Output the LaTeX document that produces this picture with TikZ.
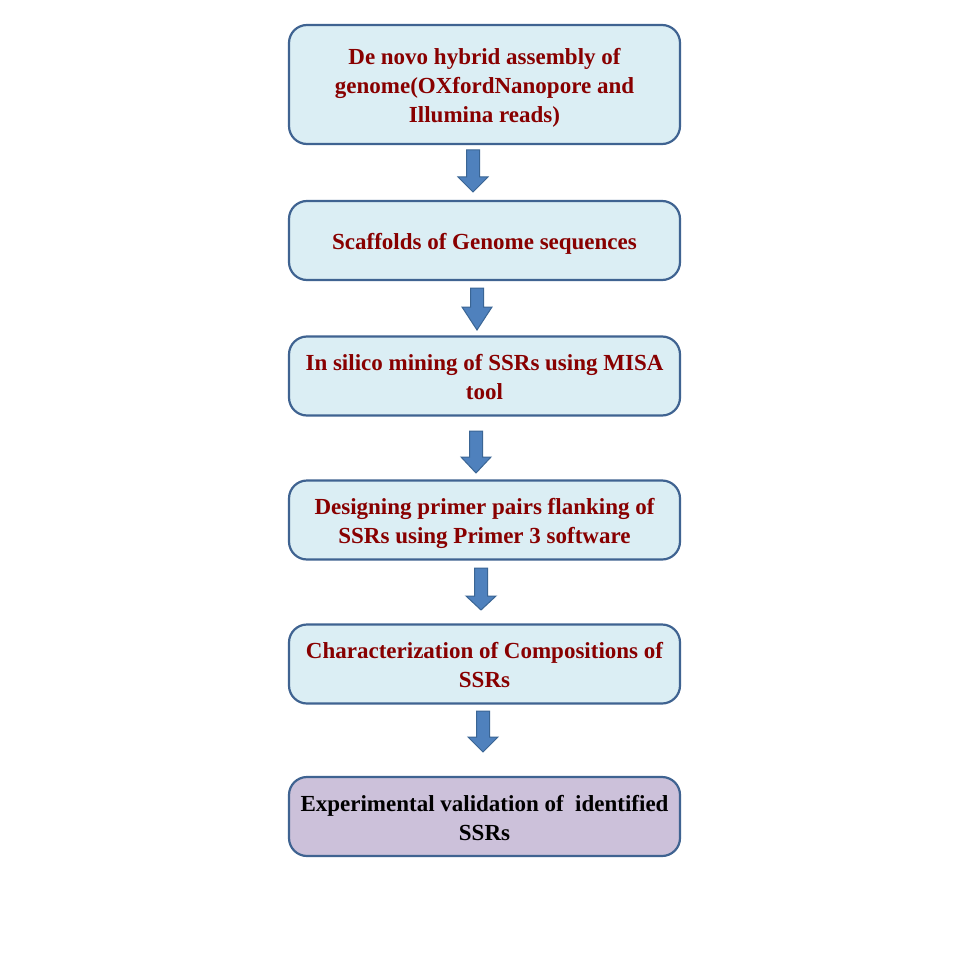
\documentclass[tikz,border=0pt]{standalone}
\usepackage{fontspec}
\setmainfont{Liberation Serif}
\usetikzlibrary{calc}
\definecolor{boxfill}{HTML}{DBEEF4}
\definecolor{boxdraw}{HTML}{3F6391}
\definecolor{lastfill}{HTML}{CCC1DA}
\definecolor{txtred}{HTML}{880000}
\definecolor{arrfill}{HTML}{4F81BD}
\definecolor{arrdraw}{HTML}{3A6594}
\newcommand\blkarrow[3]{\draw[blockarrow] ($(#1)+(-6.5,0)$) -- ($(#2)+(-6.5,0)$) -- ($(#2)+(-15,0)$) -- (#3) -- ($(#2)+(15,0)$) -- ($(#2)+(6.5,0)$) -- ($(#1)+(6.5,0)$) -- cycle;}
\begin{document}
\begin{tikzpicture}[x=1pt,y=-1pt,
  stepbox/.style={draw=boxdraw, line width=2.2pt, fill=boxfill, rounded corners=18pt,
    minimum width=391pt, minimum height=79pt, align=center,
    font=\fontsize{23}{29}\selectfont\bfseries, text=txtred, inner sep=0pt,
    text depth=0pt},
  lines1/.style={text height=18.6pt},
  lines2/.style={text height=47.6pt},
  lines3/.style={text height=76.6pt},
  laststep/.style={stepbox, fill=lastfill, text=black},
  blockarrow/.style={fill=arrfill, draw=arrdraw, line width=1pt, line join=miter}
]
\useasboundingbox (0,0) rectangle (960,960);
\fill[white] (0,0) rectangle (960,960);

\node[stepbox, lines3, minimum height=119pt] (b1) at (484.5,84.5)
  {De novo hybrid assembly of\\genome(OXfordNanopore and\\Illumina reads)};
\node[stepbox, lines1] (b2) at (484.5,240.5) {Scaffolds of Genome sequences};
\node[stepbox, lines2] (b3) at (484.5,376) {In silico mining of SSRs using MISA\\tool};
\node[stepbox, lines2] (b4) at (484.5,520) {Designing primer pairs flanking of\\SSRs using Primer 3 software};
\node[stepbox, lines2] (b5) at (484.5,664) {Characterization of Compositions of\\SSRs};
\node[laststep, lines2] (b6) at (484.5,816.5) {Experimental validation of~ identified\\SSRs};

\coordinate (a1t) at (473,150); \coordinate (a1h) at (473,177); \coordinate (a1e) at (473,192);
\coordinate (a2t) at (477,288); \coordinate (a2h) at (477,307); \coordinate (a2e) at (477,330);
\coordinate (a3t) at (476,431); \coordinate (a3h) at (476,457); \coordinate (a3e) at (476,473);
\coordinate (a4t) at (481,568); \coordinate (a4h) at (481,596); \coordinate (a4e) at (481,610);
\coordinate (a5t) at (483,711); \coordinate (a5h) at (483,737); \coordinate (a5e) at (483,752);

\blkarrow{a1t}{a1h}{a1e}
\blkarrow{a2t}{a2h}{a2e}
\blkarrow{a3t}{a3h}{a3e}
\blkarrow{a4t}{a4h}{a4e}
\blkarrow{a5t}{a5h}{a5e}
\end{tikzpicture}
\end{document}
